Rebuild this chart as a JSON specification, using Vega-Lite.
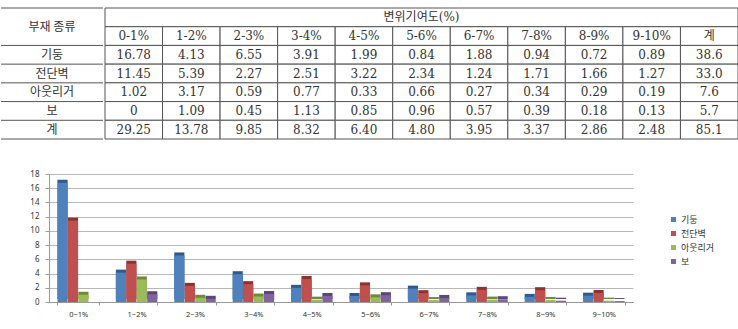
{
  "$schema": "https://vega.github.io/schema/vega-lite/v6.json",
  "padding": {"top": 7, "left": 0, "right": 0, "bottom": 0},
  "background": "white",
  "config": {"view": {"stroke": null}},
  "datasets": {
    "cells": [
      {"row": "h1", "col": "부재 종류", "label": "부재 종류"},
      {"row": "기둥", "col": "부재 종류", "label": "기둥"},
      {"row": "전단벽", "col": "부재 종류", "label": "전단벽"},
      {"row": "아웃리거", "col": "부재 종류", "label": "아웃리거"},
      {"row": "보", "col": "부재 종류", "label": "보"},
      {"row": "계", "col": "부재 종류", "label": "계"},
      {"row": "h1", "col": "header", "label": "변위기여도(%)"},
      {"row": "h2", "col": "0-1%", "label": "0-1%"},
      {"row": "h2", "col": "1-2%", "label": "1-2%"},
      {"row": "h2", "col": "2-3%", "label": "2-3%"},
      {"row": "h2", "col": "3-4%", "label": "3-4%"},
      {"row": "h2", "col": "4-5%", "label": "4-5%"},
      {"row": "h2", "col": "5-6%", "label": "5-6%"},
      {"row": "h2", "col": "6-7%", "label": "6-7%"},
      {"row": "h2", "col": "7-8%", "label": "7-8%"},
      {"row": "h2", "col": "8-9%", "label": "8-9%"},
      {"row": "h2", "col": "9-10%", "label": "9-10%"},
      {"row": "h2", "col": "계", "label": "계"},
      {"row": "기둥", "col": "0-1%", "label": "16.78"},
      {"row": "기둥", "col": "1-2%", "label": "4.13"},
      {"row": "기둥", "col": "2-3%", "label": "6.55"},
      {"row": "기둥", "col": "3-4%", "label": "3.91"},
      {"row": "기둥", "col": "4-5%", "label": "1.99"},
      {"row": "기둥", "col": "5-6%", "label": "0.84"},
      {"row": "기둥", "col": "6-7%", "label": "1.88"},
      {"row": "기둥", "col": "7-8%", "label": "0.94"},
      {"row": "기둥", "col": "8-9%", "label": "0.72"},
      {"row": "기둥", "col": "9-10%", "label": "0.89"},
      {"row": "기둥", "col": "계", "label": "38.6"},
      {"row": "전단벽", "col": "0-1%", "label": "11.45"},
      {"row": "전단벽", "col": "1-2%", "label": "5.39"},
      {"row": "전단벽", "col": "2-3%", "label": "2.27"},
      {"row": "전단벽", "col": "3-4%", "label": "2.51"},
      {"row": "전단벽", "col": "4-5%", "label": "3.22"},
      {"row": "전단벽", "col": "5-6%", "label": "2.34"},
      {"row": "전단벽", "col": "6-7%", "label": "1.24"},
      {"row": "전단벽", "col": "7-8%", "label": "1.71"},
      {"row": "전단벽", "col": "8-9%", "label": "1.66"},
      {"row": "전단벽", "col": "9-10%", "label": "1.27"},
      {"row": "전단벽", "col": "계", "label": "33.0"},
      {"row": "아웃리거", "col": "0-1%", "label": "1.02"},
      {"row": "아웃리거", "col": "1-2%", "label": "3.17"},
      {"row": "아웃리거", "col": "2-3%", "label": "0.59"},
      {"row": "아웃리거", "col": "3-4%", "label": "0.77"},
      {"row": "아웃리거", "col": "4-5%", "label": "0.33"},
      {"row": "아웃리거", "col": "5-6%", "label": "0.66"},
      {"row": "아웃리거", "col": "6-7%", "label": "0.27"},
      {"row": "아웃리거", "col": "7-8%", "label": "0.34"},
      {"row": "아웃리거", "col": "8-9%", "label": "0.29"},
      {"row": "아웃리거", "col": "9-10%", "label": "0.19"},
      {"row": "아웃리거", "col": "계", "label": "7.6"},
      {"row": "보", "col": "0-1%", "label": "0"},
      {"row": "보", "col": "1-2%", "label": "1.09"},
      {"row": "보", "col": "2-3%", "label": "0.45"},
      {"row": "보", "col": "3-4%", "label": "1.13"},
      {"row": "보", "col": "4-5%", "label": "0.85"},
      {"row": "보", "col": "5-6%", "label": "0.96"},
      {"row": "보", "col": "6-7%", "label": "0.57"},
      {"row": "보", "col": "7-8%", "label": "0.39"},
      {"row": "보", "col": "8-9%", "label": "0.18"},
      {"row": "보", "col": "9-10%", "label": "0.13"},
      {"row": "보", "col": "계", "label": "5.7"},
      {"row": "계", "col": "0-1%", "label": "29.25"},
      {"row": "계", "col": "1-2%", "label": "13.78"},
      {"row": "계", "col": "2-3%", "label": "9.85"},
      {"row": "계", "col": "3-4%", "label": "8.32"},
      {"row": "계", "col": "4-5%", "label": "6.40"},
      {"row": "계", "col": "5-6%", "label": "4.80"},
      {"row": "계", "col": "6-7%", "label": "3.95"},
      {"row": "계", "col": "7-8%", "label": "3.37"},
      {"row": "계", "col": "8-9%", "label": "2.86"},
      {"row": "계", "col": "9-10%", "label": "2.48"},
      {"row": "계", "col": "계", "label": "85.1"}
    ],
    "bars": [
      {"range": "0~1%", "type": "기둥", "value": 16.78},
      {"range": "0~1%", "type": "전단벽", "value": 11.45},
      {"range": "0~1%", "type": "아웃리거", "value": 1.02},
      {"range": "0~1%", "type": "보", "value": 0},
      {"range": "1~2%", "type": "기둥", "value": 4.13},
      {"range": "1~2%", "type": "전단벽", "value": 5.39},
      {"range": "1~2%", "type": "아웃리거", "value": 3.17},
      {"range": "1~2%", "type": "보", "value": 1.09},
      {"range": "2~3%", "type": "기둥", "value": 6.55},
      {"range": "2~3%", "type": "전단벽", "value": 2.27},
      {"range": "2~3%", "type": "아웃리거", "value": 0.59},
      {"range": "2~3%", "type": "보", "value": 0.45},
      {"range": "3~4%", "type": "기둥", "value": 3.91},
      {"range": "3~4%", "type": "전단벽", "value": 2.51},
      {"range": "3~4%", "type": "아웃리거", "value": 0.77},
      {"range": "3~4%", "type": "보", "value": 1.13},
      {"range": "4~5%", "type": "기둥", "value": 1.99},
      {"range": "4~5%", "type": "전단벽", "value": 3.22},
      {"range": "4~5%", "type": "아웃리거", "value": 0.33},
      {"range": "4~5%", "type": "보", "value": 0.85},
      {"range": "5~6%", "type": "기둥", "value": 0.84},
      {"range": "5~6%", "type": "전단벽", "value": 2.34},
      {"range": "5~6%", "type": "아웃리거", "value": 0.66},
      {"range": "5~6%", "type": "보", "value": 0.96},
      {"range": "6~7%", "type": "기둥", "value": 1.88},
      {"range": "6~7%", "type": "전단벽", "value": 1.24},
      {"range": "6~7%", "type": "아웃리거", "value": 0.27},
      {"range": "6~7%", "type": "보", "value": 0.57},
      {"range": "7~8%", "type": "기둥", "value": 0.94},
      {"range": "7~8%", "type": "전단벽", "value": 1.71},
      {"range": "7~8%", "type": "아웃리거", "value": 0.34},
      {"range": "7~8%", "type": "보", "value": 0.39},
      {"range": "8~9%", "type": "기둥", "value": 0.72},
      {"range": "8~9%", "type": "전단벽", "value": 1.66},
      {"range": "8~9%", "type": "아웃리거", "value": 0.29},
      {"range": "8~9%", "type": "보", "value": 0.18},
      {"range": "9~10%", "type": "기둥", "value": 0.89},
      {"range": "9~10%", "type": "전단벽", "value": 1.27},
      {"range": "9~10%", "type": "아웃리거", "value": 0.19},
      {"range": "9~10%", "type": "보", "value": 0.13}
    ]
  },
  "spacing": 30,
  "vconcat": [
    {
      "spacing": 0,
      "hconcat": [
        {
          "width": 102,
          "height": 131,
          "layer": [
            {
              "data": {"values": [{"row": "h1"}, {"row": "기둥"}, {"row": "전단벽"}, {"row": "아웃리거"}, {"row": "보"}, {"row": "계"}]},
              "mark": {"type": "rule", "color": "#555", "strokeWidth": 1},
              "encoding": {
                "y": {"field": "row", "type": "ordinal", "bandPosition": 0, "axis": null,
                  "scale": {"type": "band", "domain": ["h1", "h2", "기둥", "전단벽", "아웃리거", "보", "계"], "paddingInner": 0, "paddingOuter": 0}}
              }
            },
            {
              "data": {"values": [{"row": "계"}]},
              "mark": {"type": "rule", "color": "#555", "strokeWidth": 1},
              "encoding": {
                "y": {"field": "row", "type": "ordinal", "bandPosition": 1, "axis": null,
                  "scale": {"type": "band", "domain": ["h1", "h2", "기둥", "전단벽", "아웃리거", "보", "계"], "paddingInner": 0, "paddingOuter": 0}}
              }
            },
            {
              "data": {"name": "cells"},
              "transform": [{"filter": "datum.col == '부재 종류' && datum.row != 'h1'"}],
              "mark": {"type": "text", "font": "Noto Sans CJK KR", "fontSize": 12, "color": "#333"},
              "encoding": {
                "y": {"field": "row", "type": "ordinal", "axis": null,
                  "scale": {"type": "band", "domain": ["h1", "h2", "기둥", "전단벽", "아웃리거", "보", "계"], "paddingInner": 0, "paddingOuter": 0}},
                "text": {"field": "label"}
              }
            },
            {
              "data": {"name": "cells"},
              "transform": [{"filter": "datum.col == '부재 종류' && datum.row == 'h1'"}],
              "mark": {"type": "text", "font": "Noto Sans CJK KR", "fontSize": 12, "color": "#333", "dy": 9.4},
              "encoding": {
                "y": {"field": "row", "type": "ordinal", "axis": null,
                  "scale": {"type": "band", "domain": ["h1", "h2", "기둥", "전단벽", "아웃리거", "보", "계"], "paddingInner": 0, "paddingOuter": 0}},
                "text": {"field": "label"}
              }
            }
          ]
        },
        {
          "width": 633,
          "height": 131,
          "data": {"name": "cells"},
          "layer": [
            {
              "transform": [{"filter": "datum.row == 'h1' && datum.col == 'header'"}],
              "mark": {"type": "rect", "fill": "white", "stroke": "#555", "strokeWidth": 1},
              "encoding": {
                "y": {"field": "row", "type": "ordinal", "axis": null,
                  "scale": {"type": "band", "domain": ["h1", "h2", "기둥", "전단벽", "아웃리거", "보", "계"], "paddingInner": 0, "paddingOuter": 0}}
              }
            },
            {
              "transform": [{"filter": "datum.row == 'h1' && datum.col == 'header'"}],
              "mark": {"type": "text", "font": "DejaVu Serif, Noto Sans CJK KR", "fontSize": 12, "color": "#333"},
              "encoding": {
                "y": {"field": "row", "type": "ordinal", "axis": null,
                  "scale": {"type": "band", "domain": ["h1", "h2", "기둥", "전단벽", "아웃리거", "보", "계"], "paddingInner": 0, "paddingOuter": 0}},
                "text": {"field": "label"}
              }
            },
            {
              "transform": [{"filter": "datum.row != 'h1' && datum.col != '부재 종류'"}],
              "mark": {"type": "rect", "fill": "white", "stroke": "#555", "strokeWidth": 1},
              "encoding": {
                "x": {"field": "col", "type": "ordinal", "axis": null,
                  "scale": {"type": "band", "domain": ["0-1%", "1-2%", "2-3%", "3-4%", "4-5%", "5-6%", "6-7%", "7-8%", "8-9%", "9-10%", "계"], "paddingInner": 0, "paddingOuter": 0}},
                "y": {"field": "row", "type": "ordinal", "axis": null,
                  "scale": {"type": "band", "domain": ["h1", "h2", "기둥", "전단벽", "아웃리거", "보", "계"], "paddingInner": 0, "paddingOuter": 0}}
              }
            },
            {
              "transform": [{"filter": "datum.row != 'h1' && datum.col != '부재 종류'"}],
              "mark": {"type": "text", "font": "DejaVu Serif, Noto Sans CJK KR", "fontSize": 12, "color": "#333"},
              "encoding": {
                "x": {"field": "col", "type": "ordinal", "axis": null,
                  "scale": {"type": "band", "domain": ["0-1%", "1-2%", "2-3%", "3-4%", "4-5%", "5-6%", "6-7%", "7-8%", "8-9%", "9-10%", "계"], "paddingInner": 0, "paddingOuter": 0}},
                "y": {"field": "row", "type": "ordinal", "axis": null,
                  "scale": {"type": "band", "domain": ["h1", "h2", "기둥", "전단벽", "아웃리거", "보", "계"], "paddingInner": 0, "paddingOuter": 0}},
                "text": {"field": "label"}
              }
            }
          ]
        }
      ]
    },
    {
      "spacing": 0,
      "hconcat": [
        {
          "width": 1,
          "height": 1,
          "data": {"values": []},
          "mark": {"type": "text"},
          "encoding": {}
        },
        {
          "width": 584,
          "height": 128,
          "data": {"name": "bars"},
          "resolve": {"scale": {"color": "independent"}},
          "layer": [
            {
              "mark": {"type": "bar", "xOffset": 3, "yOffset": -3},
              "encoding": {
                "color": {"field": "type", "type": "nominal", "legend": null,
                  "scale": {"domain": ["기둥", "전단벽", "아웃리거", "보"], "range": ["#2F5A8E", "#8E3230", "#6F8A3A", "#5B4679"]}}
              }
            },
            {
              "mark": {"type": "bar"},
              "encoding": {
                "color": {"field": "type", "type": "nominal",
                  "scale": {"domain": ["기둥", "전단벽", "아웃리거", "보"], "range": ["#4F81BD", "#C0504D", "#9BBB59", "#8064A2"]},
                  "legend": {"title": null, "orient": "none", "legendX": 620, "legendY": 41, "padding": 0,
                    "symbolType": "square", "symbolSize": 25, "labelFont": "Noto Sans CJK KR", "labelFontSize": 9,
                    "labelColor": "#333", "rowPadding": 4, "labelOffset": 3}}
              }
            }
          ],
          "encoding": {
            "x": {"field": "range", "type": "nominal", "title": null,
              "sort": ["0~1%", "1~2%", "2~3%", "3~4%", "4~5%", "5~6%", "6~7%", "7~8%", "8~9%", "9~10%"],
              "scale": {"paddingInner": 0.29, "paddingOuter": 0.145},
              "axis": {"labelAngle": 0, "labelFont": "Noto Sans", "labelFontSize": 7.5, "labelColor": "#333",
                "ticks": true, "tickBand": "extent", "tickSize": 3, "tickColor": "#999", "labelPadding": 5, "domainColor": "#999"}},
            "xOffset": {"field": "type", "type": "nominal", "sort": ["기둥", "전단벽", "아웃리거", "보"],
              "scale": {"paddingInner": 0.03}},
            "y": {"field": "value", "type": "quantitative", "title": null,
              "scale": {"domain": [0, 18], "nice": false},
              "axis": {"values": [0, 2, 4, 6, 8, 10, 12, 14, 16, 18], "labelFont": "Noto Sans", "labelFontSize": 8,
                "labelColor": "#333", "gridColor": "#b8b8b8", "domainColor": "#999", "tickColor": "#999", "tickSize": 4,
                "labelPadding": 6, "minExtent": 47}}
          }
        }
      ]
    }
  ]
}
